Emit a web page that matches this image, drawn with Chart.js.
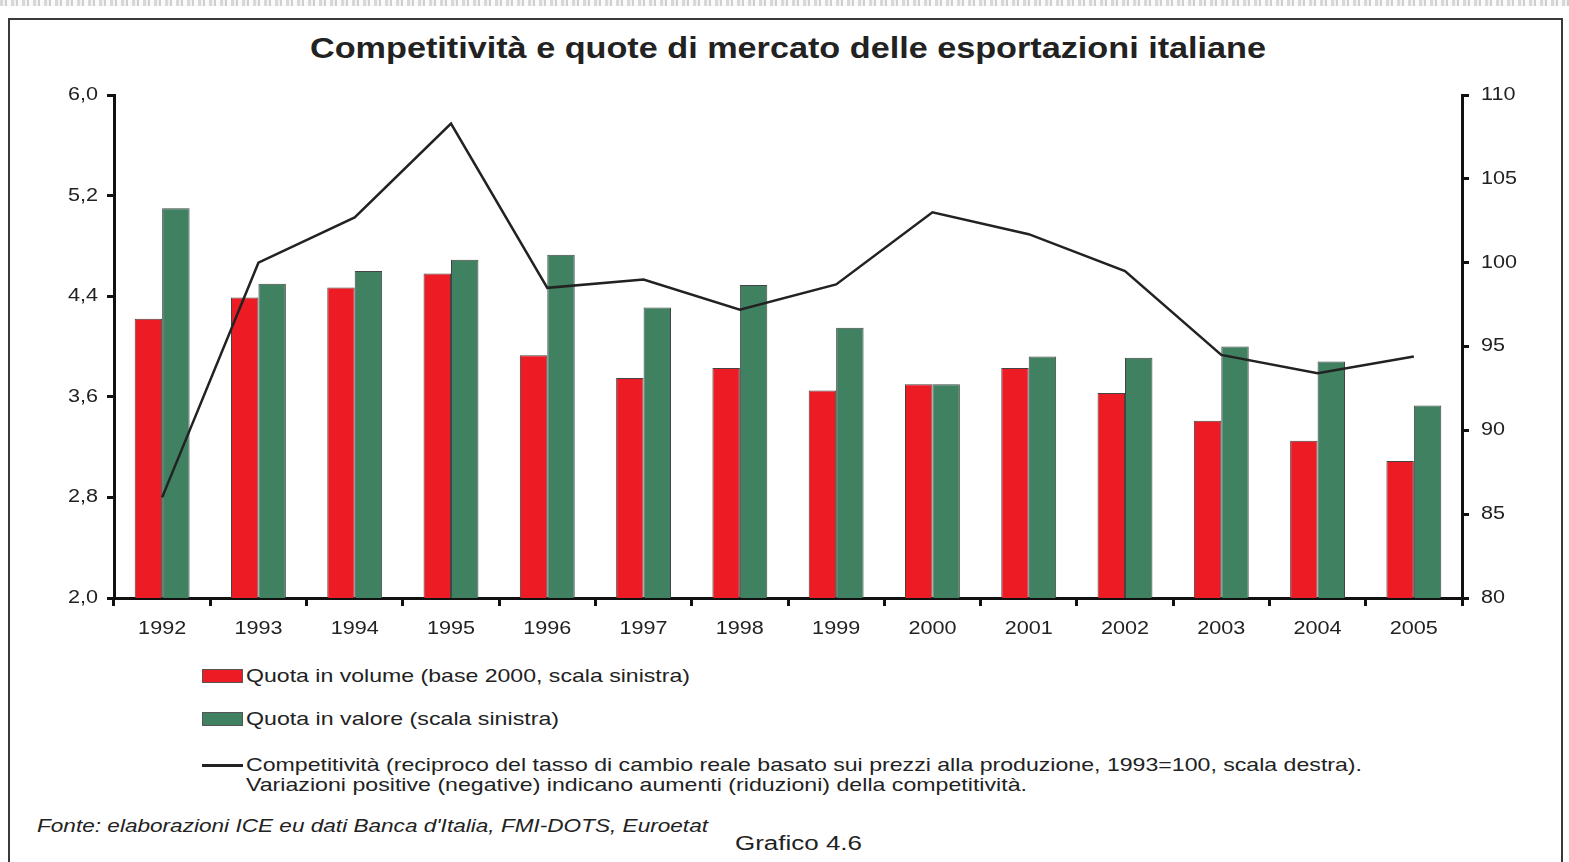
<!DOCTYPE html>
<html>
<head>
<meta charset="utf-8">
<script src="https://cdn.jsdelivr.net/npm/chart.js@4.4.1/dist/chart.umd.min.js"></script>
<style>
  html, body { margin:0; padding:0; background:#fff; }
  body { width:1569px; height:862px; position:relative; overflow:hidden; font-family:"Liberation Sans", Arial, sans-serif; color:#222; }
  #topband { position:absolute; left:0; top:0; width:1569px; height:6px;
    background: repeating-linear-gradient(90deg, #d8d8d8 0 3px, #f2f2f2 3px 5px, #cfcfcf 5px 7px, #fafafa 7px 11px); }
  #frame { position:absolute; left:8px; top:18px; width:1555px; height:860px; border:2px solid #3a3a3a; box-sizing:border-box; }
  #wrap { position:absolute; left:0; top:0; width:1569px; height:640px; }
  .fit { position:absolute; display:inline-block; white-space:nowrap; transform-origin:0 0; color:#222; }
  #title { left:310px; top:32px; font-weight:bold; font-size:29px; }
  .leg { font-size:19px; }
  .box { position:absolute; width:41px; height:14px; border:1px solid #555; box-sizing:border-box; }
  .lline { position:absolute; width:41px; height:3px; background:#222; }
  #src { left:37px; top:816px; font-size:18px; font-style:italic; }
  #graf { left:735px; top:832px; font-size:20px; }
</style>
</head>
<body>
<div id="topband"></div>
<div id="frame"></div>
<div id="title" class="fit" data-w="956">Competitività e quote di mercato delle esportazioni italiane</div>
<div id="wrap"><canvas id="c" width="1569" height="640"></canvas></div>

<div class="box" style="left:202px; top:669px; background:#ED1C24;"></div>
<div class="fit leg" data-w="444" style="left:246px; top:665px;">Quota in volume (base 2000, scala sinistra)</div>
<div class="box" style="left:202px; top:712px; background:#3F8160;"></div>
<div class="fit leg" data-w="313" style="left:246px; top:708px;">Quota in valore (scala sinistra)</div>
<div class="lline" style="left:202px; top:764px;"></div>
<div class="fit leg" data-w="1116" style="left:246px; top:754px;">Competitività (reciproco del tasso di cambio reale basato sui prezzi alla produzione, 1993=100, scala destra).</div>
<div class="fit leg" data-w="781" style="left:246px; top:774px;">Variazioni positive (negative) indicano aumenti (riduzioni) della competitività.</div>
<div id="src" class="fit" data-w="671">Fonte: elaborazioni ICE eu dati Banca d'Italia, FMI-DOTS, Euroetat</div>
<div id="graf" class="fit" data-w="127">Grafico 4.6</div>

<script>
const years = ['1992','1993','1994','1995','1996','1997','1998','1999','2000','2001','2002','2003','2004','2005'];
const quotaVolume = [4.22, 4.39, 4.47, 4.58, 3.93, 3.75, 3.83, 3.65, 3.70, 3.83, 3.63, 3.41, 3.25, 3.09];
const quotaValore = [5.10, 4.50, 4.60, 4.69, 4.73, 4.31, 4.49, 4.15, 3.70, 3.92, 3.91, 4.00, 3.88, 3.53];
const competitivita = [86.0, 100.0, 102.7, 108.3, 98.5, 99.0, 97.2, 98.7, 103.0, 101.7, 99.5, 94.5, 93.4, 94.4];
const leftTicks = [2.0, 2.8, 3.6, 4.4, 5.2, 6.0];
const rightTicks = [80, 85, 90, 95, 100, 105, 110];

// horizontally fit HTML texts to the reference widths
document.querySelectorAll('.fit').forEach(el => {
  const w = el.getBoundingClientRect().width;
  const target = parseFloat(el.dataset.w);
  if (w > 0) el.style.transform = 'scaleX(' + (target / w) + ')';
});

Chart.defaults.font.family = '"Liberation Sans", Arial, sans-serif';
Chart.defaults.color = '#222';

const canvas = document.getElementById('c');
const ctx = canvas.getContext('2d');
const TEXT_SX = 1.2;
const origFill = ctx.fillText.bind(ctx);
ctx.fillText = function(t, x, y) {
  this.save();
  this.translate(x, y);
  this.scale(TEXT_SX, 1);
  origFill(t, 0, 0);
  this.restore();
};

new Chart(ctx, {
  data: {
    labels: years,
    datasets: [
      { type:'line', label:'Competitività', data: competitivita, yAxisID:'y1',
        borderColor:'#222', borderWidth:2.5, pointRadius:0, tension:0, order:0, fill:false },
      { type:'bar', label:'Quota in volume', data: quotaVolume, yAxisID:'y',
        backgroundColor:'#ED1C24', borderColor:'#444', borderWidth:1, order:1,
        categoryPercentage:0.57, barPercentage:1.0 },
      { type:'bar', label:'Quota in valore', data: quotaValore, yAxisID:'y',
        backgroundColor:'#3F8160', borderColor:'#444', borderWidth:1, order:1,
        categoryPercentage:0.57, barPercentage:1.0 }
    ]
  },
  options: {
    responsive:false, animation:false,
    layout: { padding: { left:34, right:27, top:95, bottom:2 } },
    plugins: { legend:{ display:false }, tooltip:{ enabled:false }, title:{ display:false } },
    scales: {
      x: {
        offset:true,
        grid: { offset:true, drawOnChartArea:false, drawTicks:true, tickLength:8, tickColor:'#111', lineWidth:3 },
        border: { display:true, color:'#111', width:3 },
        ticks: { font:{ size:18 }, color:'#222', padding:12 },
        afterFit: s => { s.height = 40; }
      },
      y: {
        position:'left', min:2, max:6,
        afterBuildTicks: s => { s.ticks = leftTicks.map(v => ({ value:v })); },
        ticks: { font:{ size:18 }, color:'#222', padding:9,
          callback: v => v.toFixed(1).replace('.', ',') },
        grid: { drawOnChartArea:false, drawTicks:true, tickLength:7, tickColor:'#111', lineWidth:3 },
        border: { display:true, color:'#111', width:3 },
        afterFit: s => { s.width = 80; }
      },
      y1: {
        position:'right', min:80, max:110,
        afterBuildTicks: s => { s.ticks = rightTicks.map(v => ({ value:v })); },
        ticks: { font:{ size:18 }, color:'#222', padding:12, callback: v => String(v) },
        grid: { drawOnChartArea:false, drawTicks:true, tickLength:7, tickColor:'#111', lineWidth:3 },
        border: { display:true, color:'#111', width:3 },
        afterFit: s => { s.width = 80; }
      }
    }
  }
});
</script>
</body>
</html>
